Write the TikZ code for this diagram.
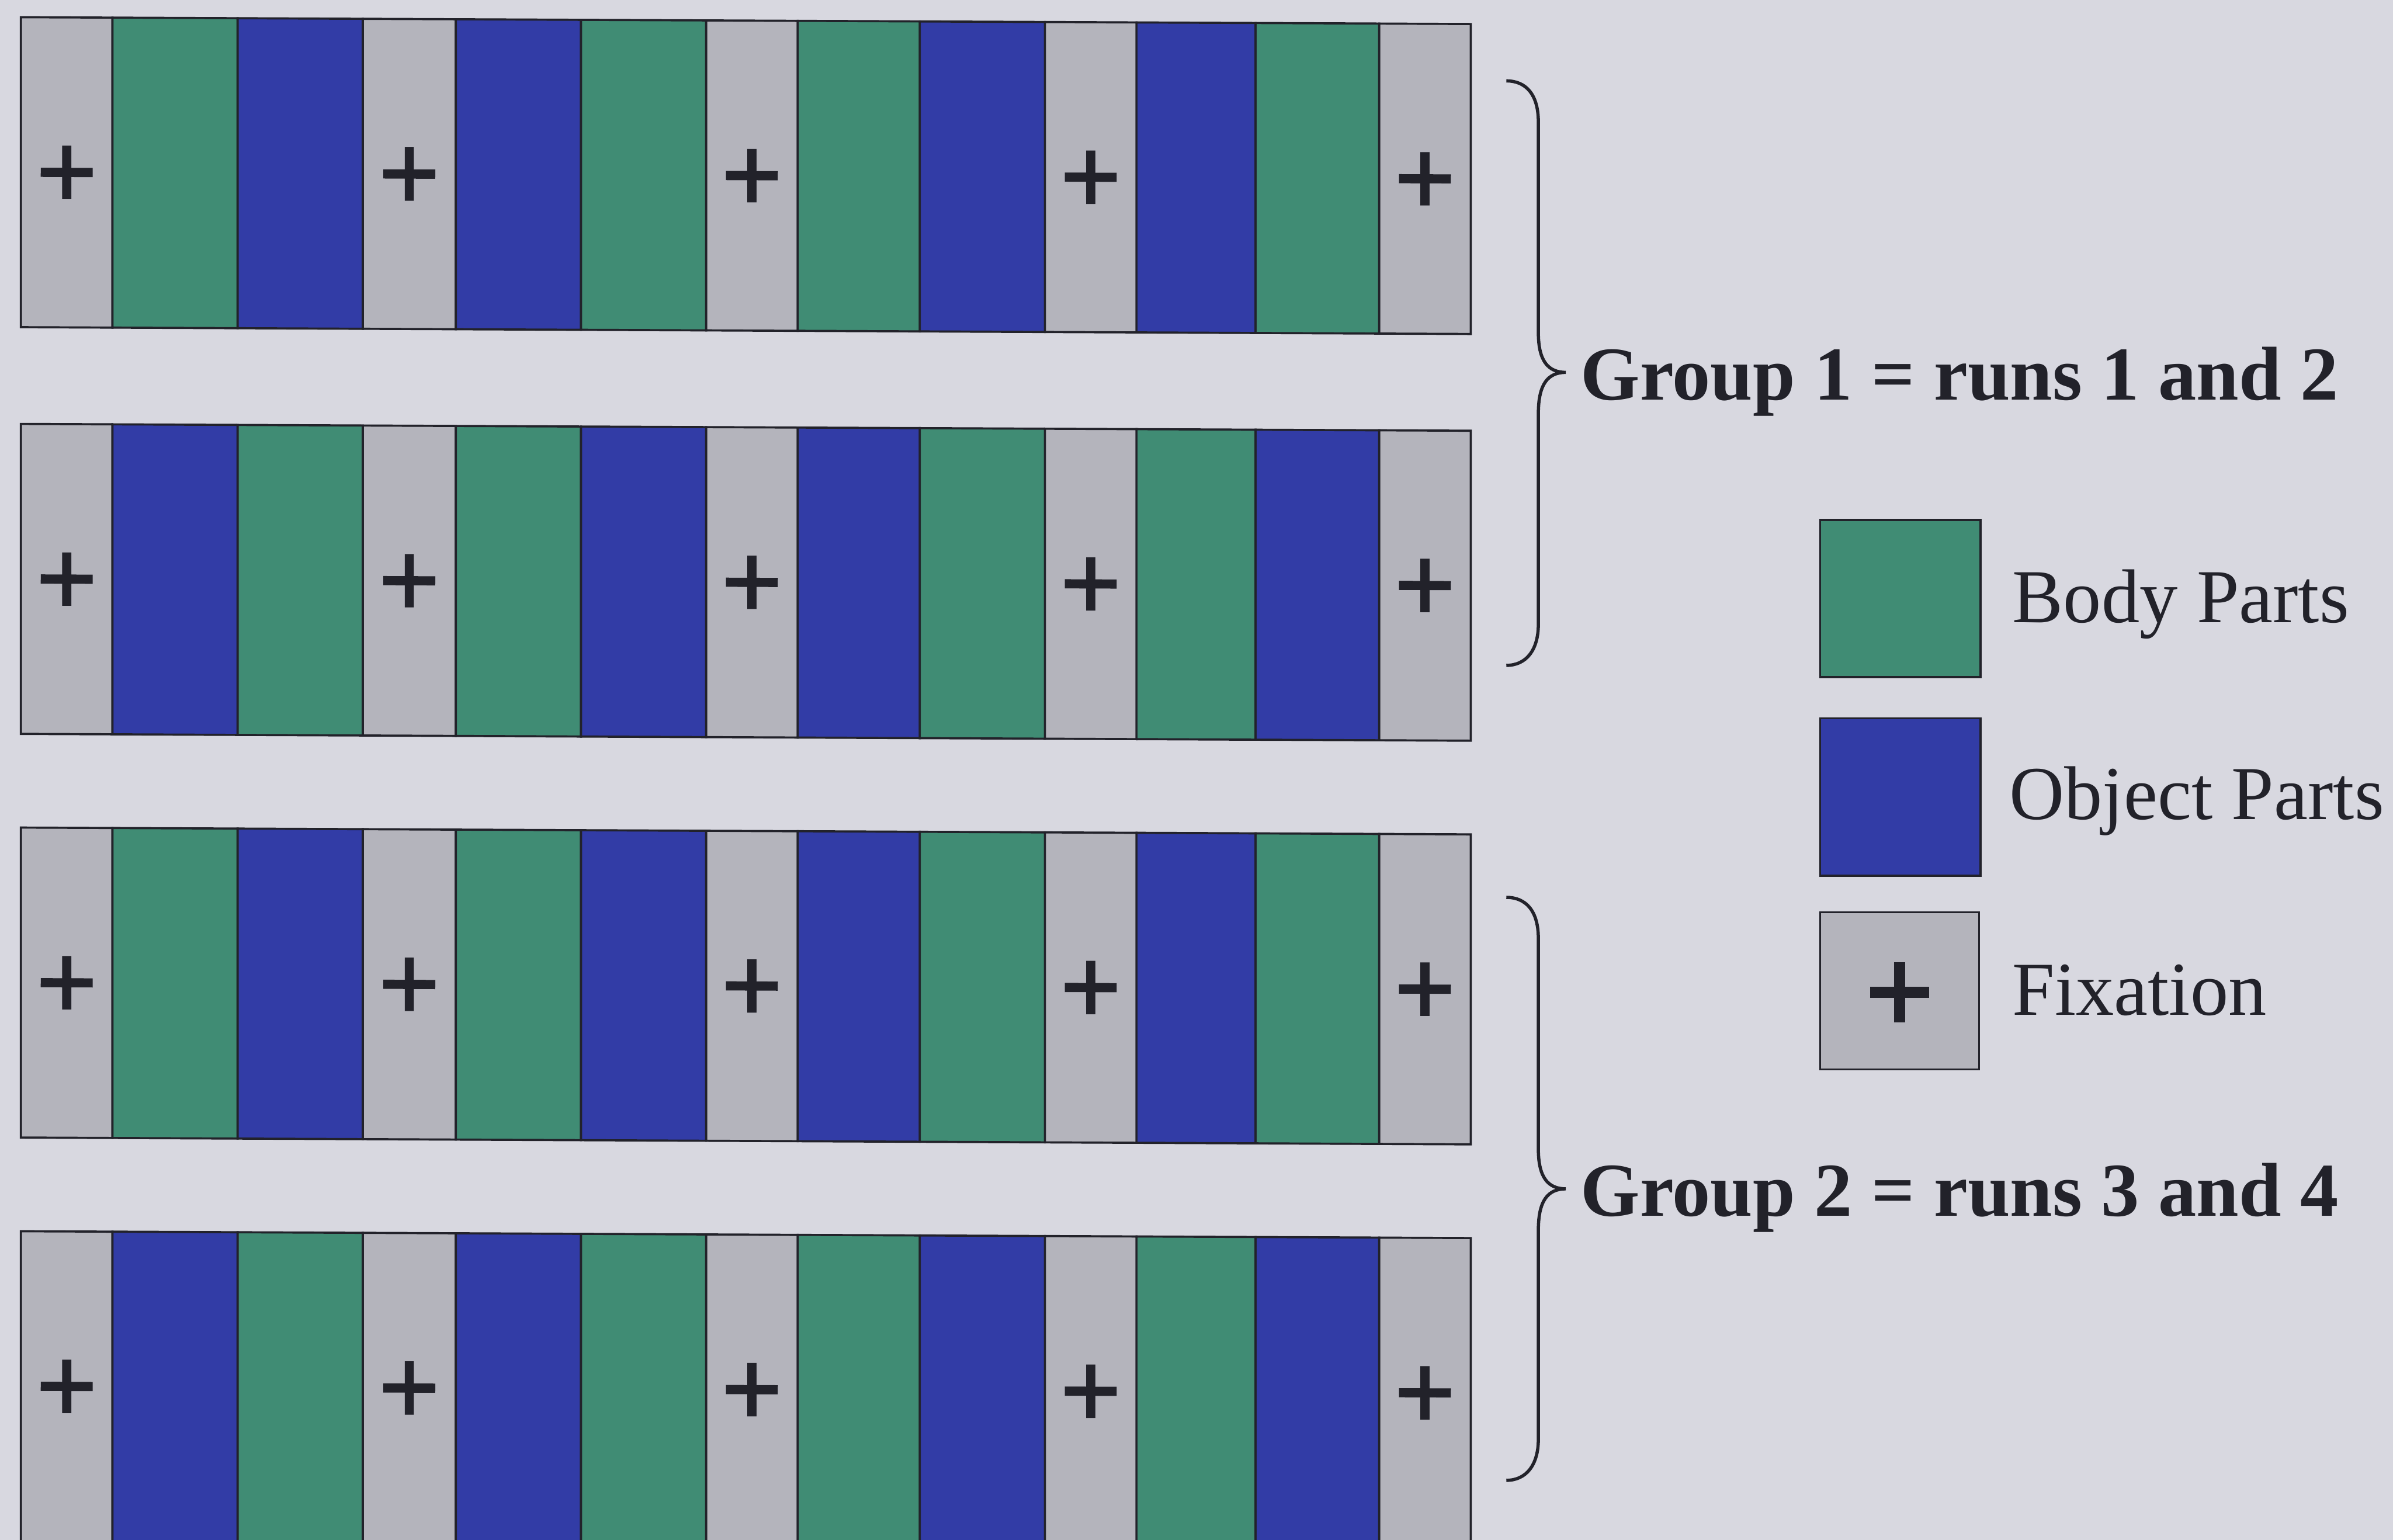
\documentclass[tikz,border=0pt]{standalone}
\usepackage{fontspec}
\setmainfont{Liberation Serif}
\definecolor{bg}{HTML}{D8D8E0}
\definecolor{fixgray}{HTML}{B4B4BC}
\definecolor{bodygreen}{HTML}{408C74}
\definecolor{objblue}{HTML}{323CA6}
\definecolor{ink}{HTML}{22222A}
\begin{document}
\begin{tikzpicture}[x=0.01cm,y=-0.01cm,
  cellbase/.style={draw=ink, line width=0.4pt, inner sep=0pt, anchor=north west, minimum height=2.03cm},
  cell0/.style={cellbase, fill=fixgray},
  cell1/.style={cellbase, fill=bodygreen},
  cell2/.style={cellbase, fill=objblue},
  plusstroke/.style={draw=ink, line width=0.06cm, line cap=butt},
  grouplabel/.style={anchor=base west, text=ink, font=\fontsize{14.2}{16}\selectfont\bfseries, inner sep=0pt},
  legendlabel/.style={anchor=base west, text=ink, font=\fontsize{14.2}{16}\selectfont, inner sep=0pt},
  legendbox/.style={draw=ink, line width=0.4pt, inner sep=0pt, anchor=north west, minimum height=1.03cm},
  bracepath/.style={draw=ink, line width=0.6pt}]
\fill[bg] (0,0) rectangle (1568,1009);
\useasboundingbox (0,0) rectangle (1568,1009);

% rows of blocks: 0 = fixation, 1 = body parts, 2 = object parts
\begin{scope}[yslant=-0.0047, transform shape]
\foreach \r/\top/\seq in {1/10.5/{0,1,2,0,2,1,0,1,2,0,2,1,0},
                          2/277/{0,2,1,0,1,2,0,2,1,0,1,2,0},
                          3/541.5/{0,1,2,0,1,2,0,2,1,0,2,1,0},
                          4/806/{0,2,1,0,2,1,0,1,2,0,1,2,0}}{
  \foreach \k [count=\i from 0] in \seq {
    \pgfmathsetmacro\xa{{13,73,155,237,298,380,462,522,602,684,744,822,903}[\i]}
    \pgfmathsetmacro\xb{{73,155,237,298,380,462,522,602,684,744,822,903,963}[\i]}
    \pgfmathsetmacro\w{(\xb-\xa)*0.01}
    \node[cell\k, minimum width=\w cm] (r\r c\i) at (\xa,\top) {};
    \ifnum\k=0
      \draw[plusstroke] (r\r c\i.center) ++(-17,0) -- ++(34,0)
                        (r\r c\i.center) ++(0,-17.5) -- ++(0,35);
    \fi
  }
}
\end{scope}

% braces
\coordinate (b1top) at (987,53);
\coordinate (b1tip) at (1026,244);
\coordinate (b1bot) at (987,436);
\draw[bracepath] (b1top) .. controls (1000,53) and (1008,62) .. (1008,80)
  -- (1008,218) .. controls (1008,236) and (1014,244) .. (b1tip)
  .. controls (1014,244) and (1008,252) .. (1008,271)
  -- (1008,409) .. controls (1008,426) and (1000,436) .. (b1bot);
\coordinate (b2top) at (987,588);
\coordinate (b2tip) at (1026,779);
\coordinate (b2bot) at (987,970);
\draw[bracepath] (b2top) .. controls (1000,588) and (1008,597) .. (1008,615)
  -- (1008,753) .. controls (1008,771) and (1014,779) .. (b2tip)
  .. controls (1014,779) and (1008,787) .. (1008,806)
  -- (1008,943) .. controls (1008,960) and (1000,970) .. (b2bot);

\node[grouplabel] (g1) at (1035,262) {Group 1 = runs 1 and 2};
\node[grouplabel] (g2) at (1035,797) {Group 2 = runs 3 and 4};

% legend
\node[legendbox, fill=bodygreen, minimum width=1.05cm] (legbody) at (1192,340) {};
\node[legendbox, fill=objblue, minimum width=1.05cm] (legobj) at (1192,470) {};
\node[legendbox, fill=fixgray, minimum width=1.04cm] (legfix) at (1192,597) {};
\draw[plusstroke, line width=0.07cm] (legfix.center) ++(-19.5,1) -- ++(39,0)
                                     (legfix.center) ++(0,-18.8) -- ++(0,39.6);
\node[legendlabel] (txtbody) at (1318,408) {Body Parts};
\node[legendlabel] (txtobj) at (1316,537) {Object Parts};
\node[legendlabel] (txtfix) at (1318,665) {Fixation};
\end{tikzpicture}
\end{document}
